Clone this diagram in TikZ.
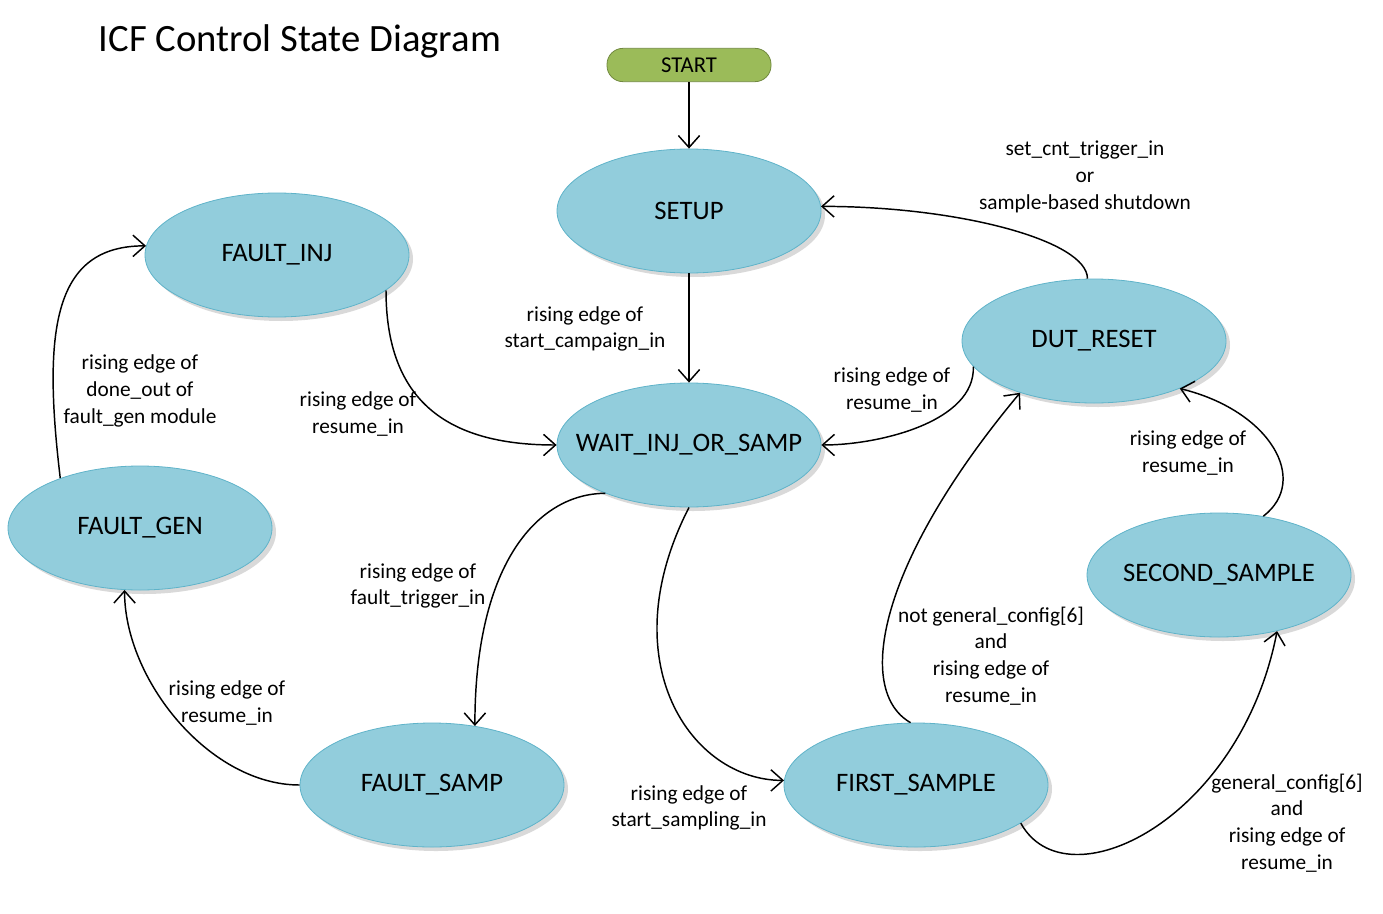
\documentclass[tikz,border=0pt]{standalone}
\usepackage{fontspec}
\setmainfont{Carlito}
\usetikzlibrary{shapes.geometric,shadows,arrows.meta}
\definecolor{stfill}{HTML}{92CDDC}
\definecolor{stline}{HTML}{5FB3C9}
\definecolor{gofill}{HTML}{9BBB59}
\definecolor{goline}{HTML}{71893F}

\begin{document}
\begin{tikzpicture}[x=0.75pt,y=-0.75pt,
  state/.style={ellipse,draw=stline,fill=stfill,line width=0.6pt,minimum width=198pt,minimum height=93pt,
    inner xsep=-60pt,inner ysep=0pt,font=\fontsize{20}{24}\selectfont,
    drop shadow={shadow xshift=3pt,shadow yshift=-3pt,opacity=0.3}},
  startbox/.style={draw=goline,fill=gofill,line width=0.6pt,rounded corners=12pt,minimum width=123pt,
    minimum height=25pt,font=\fontsize{17}{20}\selectfont},
  lbl/.style={align=center,font=\fontsize{16}{20}\selectfont},
  edge/.style={line width=1.1pt,-{Straight Barb[length=9pt,width=16pt]}}]
\useasboundingbox (0,0) rectangle (1383,913);
%Title
\node[font=\fontsize{29}{34}\selectfont] (title) at (300,41) {ICF Control State Diagram};
%States
\node[startbox] (start) at (689,65) {START};
\node[state] (setup) at (689,211) {SETUP};
\node[state] (faultinj) at (277,255) {FAULT\_INJ};
\node[state] (dutreset) at (1094,341) {DUT\_RESET};
\node[state] (wait) at (689,445) {WAIT\_INJ\_OR\_SAMP};
\node[state] (faultgen) at (140,528) {FAULT\_GEN};
\node[state] (secondsamp) at (1219,575) {SECOND\_SAMPLE};
\node[state] (faultsamp) at (432,785) {FAULT\_SAMP};
\node[state] (firstsamp) at (916,785) {FIRST\_SAMPLE};
%Transitions
\draw[edge] (start) -- (setup);
\draw[edge] (setup) -- (wait);
\draw[edge] (faultinj.342) .. controls +(0,110) and +(-110,0) .. (wait.west);
\draw[edge] (faultgen.148) .. controls +(-18,-150) and +(-92,0) .. (faultinj.176);
\draw[edge] (wait.210) .. controls +(-65,0) and +(0,-166) .. (faultsamp.54);
\draw[edge] (faultsamp.west) .. controls +(-90,0) and +(0,90) .. (faultgen.256);
\draw[edge] (wait.south) .. controls +(-79,154) and +(-93,0) .. (firstsamp.178);
\draw[edge] (firstsamp.95) .. controls +(-56,-32) and +(-142,170) .. (dutreset.215);
\draw[edge] (firstsamp.340) .. controls +(45,82) and +(-37,190) .. (secondsamp.316);
\draw[edge] (secondsamp.53) .. controls +(47,-36) and +(90,22) .. (dutreset.331);
\draw[edge] (dutreset.192) .. controls +(2,55) and +(58,0) .. (wait.east);
\draw[edge] (dutreset.96) .. controls +(0,-38) and +(138,0) .. (setup.2);
%Text
\node[lbl] (tcampaign) at (585,329) {rising edge of\\start\_campaign\_in};
\node[lbl] (tinj) at (358,414) {rising edge of\\resume\_in};
\node[lbl] (tdone) at (140,391) {rising edge of\\done\_out of\\fault\_gen module};
\node[lbl] (ttrigger) at (418,586) {rising edge of\\fault\_trigger\_in};
\node[lbl] (tgen) at (227,703) {rising edge of\\resume\_in};
\node[lbl] (tsampling) at (689,808) {rising edge of\\start\_sampling\_in};
\node[lbl] (tnotcfg) at (991,656) {not general\_config[6]\\and\\rising edge of\\resume\_in};
\node[lbl] (tcfg) at (1287,823) {general\_config[6]\\and\\rising edge of\\resume\_in};
\node[lbl] (tsecond) at (1188,453) {rising edge of\\resume\_in};
\node[lbl] (treset) at (892,390) {rising edge of\\resume\_in};
\node[lbl] (tshutdown) at (1085,177) {set\_cnt\_trigger\_in\\or\\sample-based shutdown};
\end{tikzpicture}
\end{document}
